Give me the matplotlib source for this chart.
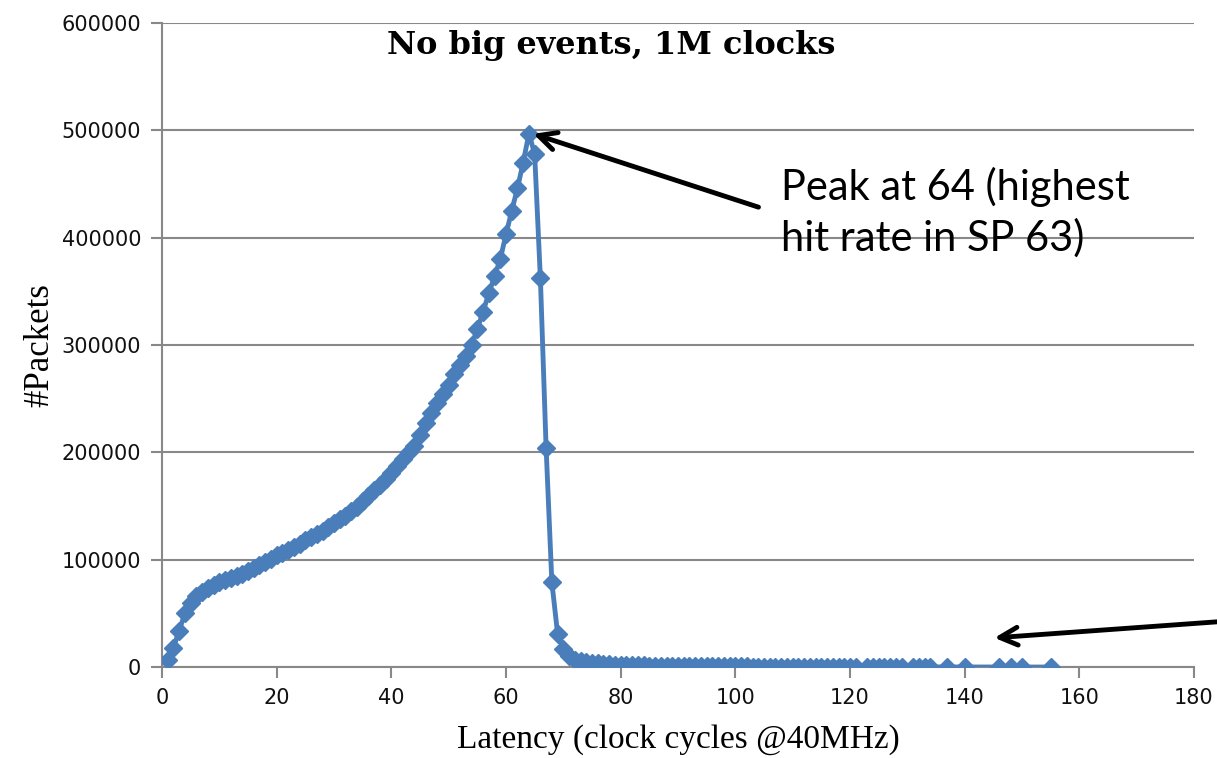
import matplotlib.pyplot as plt

# latency (clock cycles) and packet counts
latency = list(range(1, 122)) + [123, 124, 125, 126, 127, 128, 129,
                                 131, 132, 133, 134, 137, 140, 146, 148, 150, 155]
packets = [
    6500, 18000, 34000, 50000, 60000, 66000, 70000, 73500, 76500, 79000,
    81000, 83000, 85000, 87000, 89500, 92000, 95000, 98000, 101000, 104000,
    106500, 109000, 112000, 115000, 118000, 121000, 124000, 127000, 130500, 134000,
    137500, 141000, 145000, 149500, 154500, 159500, 164500, 169500, 175000, 181000,
    187000, 193500, 200000, 206000, 216000, 227000, 237000, 246000, 254000, 263000,
    273000, 281000, 290000, 300000, 315000, 331000, 348000, 364000, 380000, 403000,
    425000, 446000, 470000, 497000, 478000, 362000, 204000, 79000, 31000, 17000,
    10500, 7000, 5500, 4500, 3800, 3300, 2900, 2600, 2300, 2100,
    1900, 1750, 1600, 1500, 1400, 1300, 1200, 1100, 1050, 1000,
    950, 900, 850, 800, 760, 720, 680, 640, 600, 570,
    540, 510, 480, 450, 420, 400, 380, 360, 340, 320,
    300, 280, 260, 250, 240, 220, 200, 190, 180, 170,
    160,
    140, 130, 120, 110, 100, 90, 80,
    70, 60, 50, 45, 30, 25, 20, 15, 10, 5,
]

xticks = [0, 20, 40, 60, 80, 100, 120, 140, 160, 180]
yticks = [0, 100000, 200000, 300000, 400000, 500000, 600000]

blue = '#4a7ebb'
grid = '#888888'

fig = plt.figure(figsize=(12.17, 7.58), dpi=100)
ax = fig.add_axes([0.1331, 0.120, 0.848, 0.8497])

ax.plot(latency, packets, color=blue, lw=3.5, marker='D', ms=9.5,
        markeredgecolor=blue, zorder=3)

ax.set_xlim(0, 180)
ax.set_ylim(0, 600000)
ax.set_xticks(xticks)
ax.set_yticks(yticks)
ax.set_xticklabels([str(t) for t in xticks])
ax.set_yticklabels([str(t) for t in yticks])
ax.tick_params(axis='both', labelsize=15, colors=grid, labelcolor='#111111',
               length=8, width=1.5, direction='out', pad=7)
for lbl in ax.get_xticklabels() + ax.get_yticklabels():
    lbl.set_family('DejaVu Sans')

ax.yaxis.grid(True, color=grid, lw=1.5)
ax.set_axisbelow(True)
for s in ['top', 'right']:
    ax.spines[s].set_visible(False)
for s in ['left', 'bottom']:
    ax.spines[s].set_color(grid)
    ax.spines[s].set_linewidth(1.5)

serif = 'Liberation Serif'
ax.set_xlabel('Latency (clock cycles @40MHz)', family=serif, fontsize=24, labelpad=12)
ax.set_ylabel('#Packets', family=serif, fontsize=25, labelpad=4)
fig.text(0.502, 0.94, 'No big events, 1M clocks', family='DejaVu Serif', fontsize=23,
         fontweight='bold', ha='center', va='center')

ax.annotate('', xy=(64.3, 497500), xytext=(104.5, 427600),
            arrowprops=dict(arrowstyle='->', color='black', lw=3.5, mutation_scale=32))
ax.text(108, 424000, 'Peak at 64 (highest\nhit rate in SP 63)', family='Lato',
        fontsize=30, ha='left', va='center', linespacing=1.35)
ax.annotate('', xy=(144.7, 27000), xytext=(185, 42500), annotation_clip=False,
            arrowprops=dict(arrowstyle='->', color='black', lw=3.5, mutation_scale=32,
                            clip_on=False))

fig.savefig('out.png', dpi=100)
